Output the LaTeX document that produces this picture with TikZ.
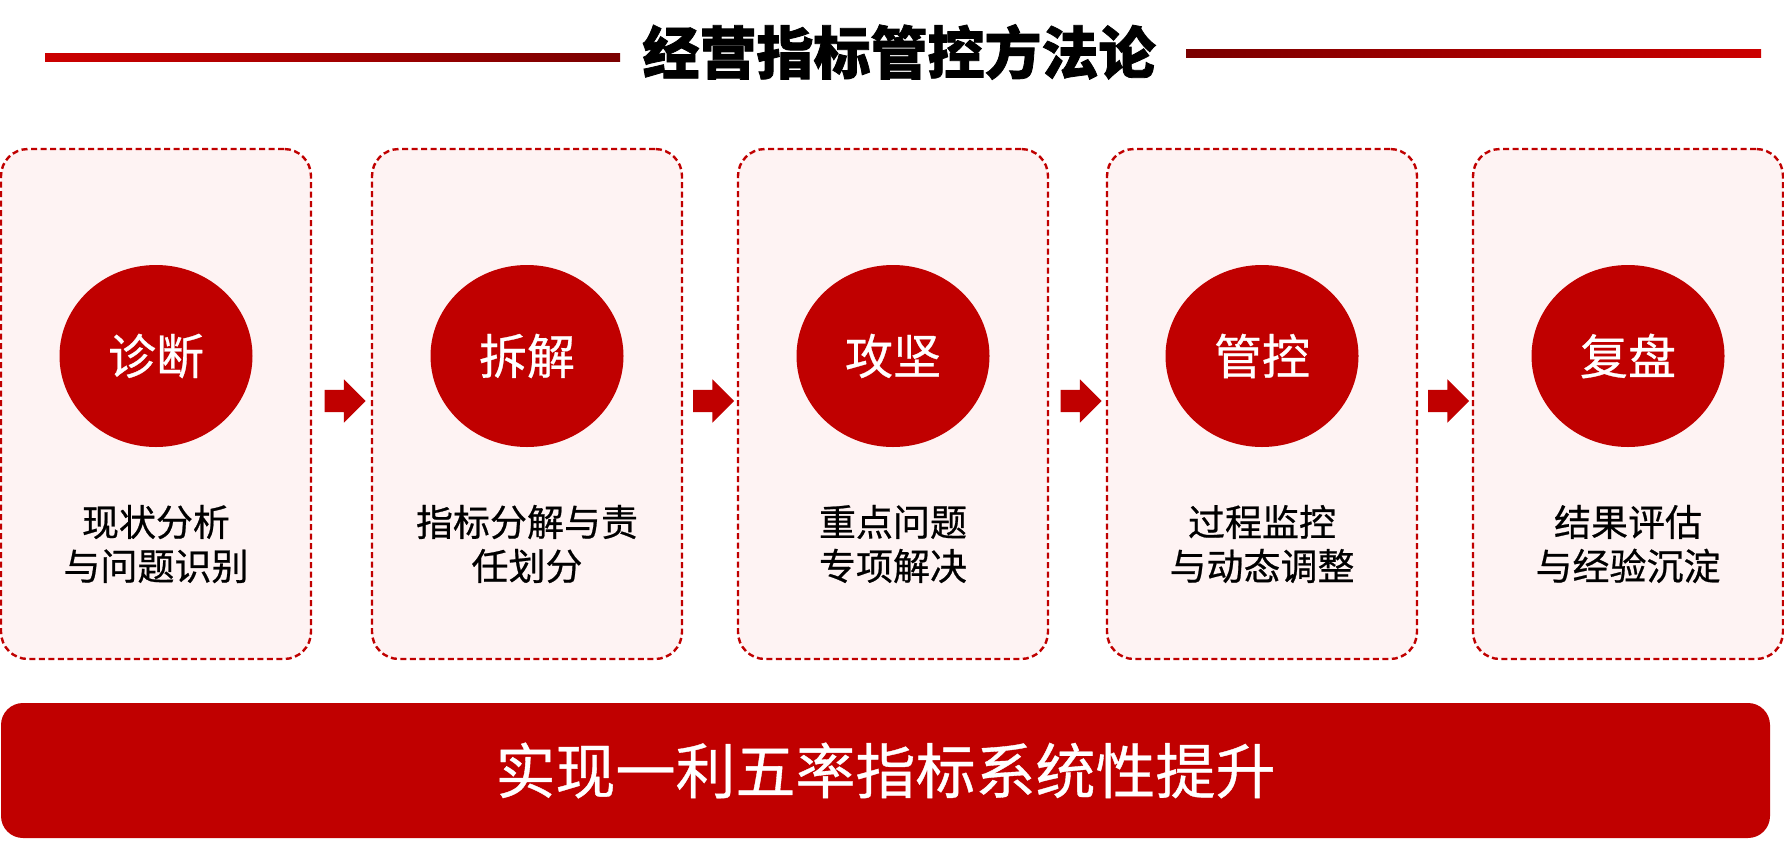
\documentclass[tikz,border=0pt]{standalone}
\usepackage{fontspec}
\setmainfont{Noto Sans CJK SC}
\newfontfamily\medfont{Noto Sans CJK SC}[FakeBold=0.6]
\newfontfamily\titlefont{Noto Sans CJK SC}[BoldFeatures={FakeBold=1.4}]
\usetikzlibrary{shapes.geometric,shapes.arrows,calc}
\definecolor{mainred}{HTML}{C00000}
\definecolor{lightred}{HTML}{CC0000}
\definecolor{darkred}{HTML}{7A0000}
\definecolor{boxfill}{HTML}{FEF3F3}
\tikzset{
  stepbox/.style={draw=mainred, fill=boxfill, line width=2.4pt, dash pattern=on 6pt off 3.5pt,
    rounded corners=27pt, minimum width=310pt, minimum height=510pt, inner sep=0pt},
  stepcircle/.style={ellipse, fill=mainred, minimum width=193pt, minimum height=182pt, inner sep=0pt,
    text=white, font=\medfont\fontsize{48}{52}\selectfont},
  steptext/.style={align=center, text=black, font=\medfont\fontsize{37}{44}\selectfont, inner sep=0pt},
  steparrow/.style={single arrow, fill=mainred, draw=none, minimum height=41pt, inner xsep=0pt,
    inner ysep=11pt, single arrow head extend=10.5pt, single arrow tip angle=90},
  goalbar/.style={fill=mainred, rounded corners=22pt, minimum width=1769pt, minimum height=135pt,
    text=white, font=\medfont\fontsize{60}{64}\selectfont, inner sep=0pt},
}
\begin{document}
\begin{tikzpicture}[x=1pt,y=-1pt]
\useasboundingbox (0,0) rectangle (1784,841);
% title
\shade[left color=lightred, right color=darkred] (45,53) rectangle (620,61);
\shade[left color=darkred, right color=lightred] (1186,49) rectangle (1761,57);
\node[font=\titlefont\fontsize{57}{60}\selectfont\bfseries, text=black, inner sep=0pt] (title) at (899,52) {经营指标管控方法论};
% boxes
\foreach \i/\x in {1/156,2/527,3/893,4/1262,5/1628}{
  \node[stepbox] (b\i) at (\x,404) {};
}
\node[stepcircle] (c1) at (156,356) {诊断};
\node[stepcircle] (c2) at (527,356) {拆解};
\node[stepcircle] (c3) at (893,356) {攻坚};
\node[stepcircle] (c4) at (1262,356) {管控};
\node[stepcircle] (c5) at (1628,356) {复盘};
\node[steptext] (t1) at (156,544) {现状分析\\与问题识别};
\node[steptext] (t2) at (527,544) {指标分解与责\\任划分};
\node[steptext] (t3) at (893,544) {重点问题\\专项解决};
\node[steptext] (t4) at (1262,544) {过程监控\\与动态调整};
\node[steptext] (t5) at (1628,544) {结果评估\\与经验沉淀};
% arrows
\foreach \i/\j in {1/2,2/3,3/4,4/5}{
  \node[steparrow] (a\i) at ($(b\i.east)!0.5!(b\j.west)+(-2,-3)$) {};
}
% goal bar
\node[goalbar] (goal) at (885.5,770.5) {实现一利五率指标系统性提升};
\end{tikzpicture}
\end{document}
